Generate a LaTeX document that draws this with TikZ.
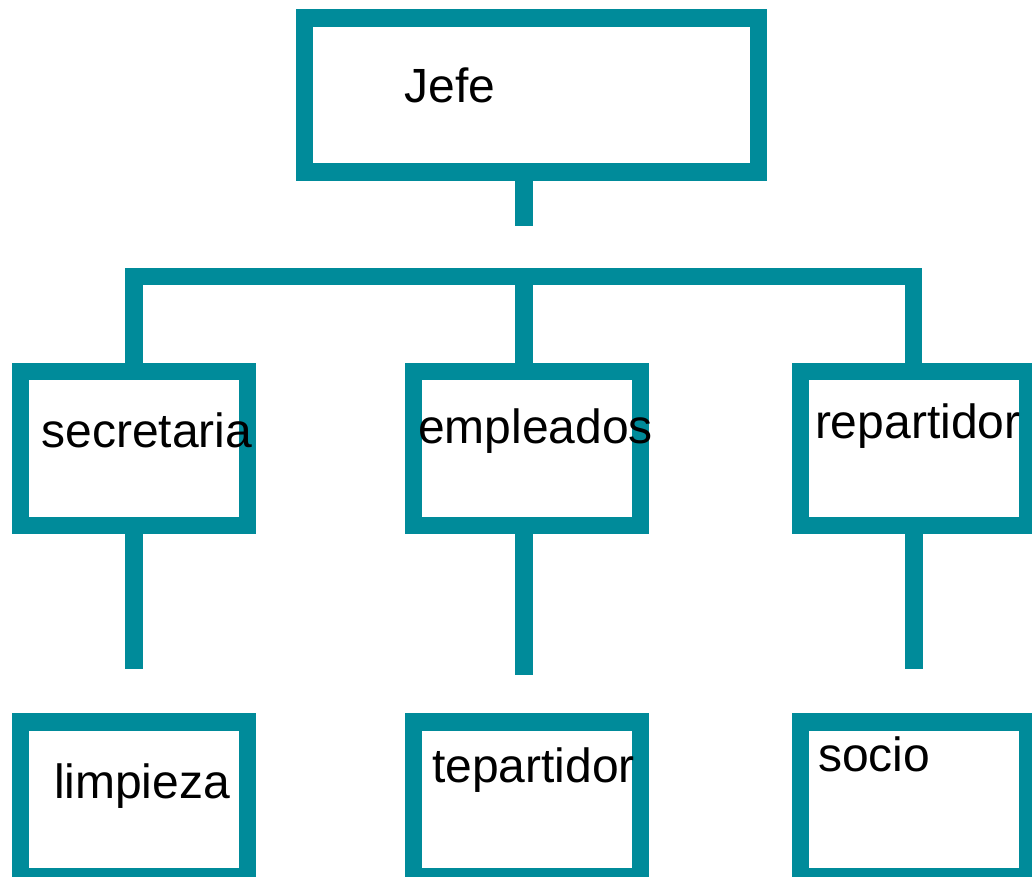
\documentclass[tikz,border=0pt]{standalone}
\usepackage{fontspec}
\setmainfont{Liberation Sans}
\definecolor{teal}{RGB}{0,139,154}
\begin{document}
\begin{tikzpicture}[x=0.75pt,y=-0.75pt,
  box/.style={draw=teal,line width=13.1pt,rectangle,inner sep=0pt,outer sep=0pt,
    minimum height={154.3*0.75pt}},
  link/.style={draw=teal,line width=13.1pt,line join=miter,line cap=butt},
  lbl/.style={anchor=base west,inner sep=0pt,outer sep=0pt,text=black,
    font=\fontsize{36}{40}\selectfont}]
\useasboundingbox (0,0) rectangle (1032,877);
% boxes
\node[box,minimum width={454.4*0.75pt},minimum height={154.4*0.75pt}] (jefe) at (531.5,95) {};
\node[box,minimum width={226.8*0.75pt}] (sec) at (133.9,448.4) {};
\node[box,minimum width={227.4*0.75pt}] (emp) at (527,448.4) {};
\node[box,minimum width={226.8*0.75pt}] (rep) at (913.9,448.4) {};
\node[box,minimum width={226.8*0.75pt}] (lim) at (133.9,799.2) {};
\node[box,minimum width={227.4*0.75pt}] (tep) at (527,799.2) {};
\node[box,minimum width={226.8*0.75pt}] (soc) at (913.9,799.2) {};
% connector points
\coordinate (jstub) at (524,225.7);
\coordinate (barL) at (134,276.7);
\coordinate (barC) at (524,276.7);
\coordinate (barR) at (913.5,276.7);
\coordinate (sL) at (134,669.3);
\coordinate (sC) at (524,675);
\coordinate (sR) at (914,669.3);
% connectors
\draw[link] (jefe.south -| jstub) -- (jstub);
\draw[link] (sec.north -| barL) -- (barL) -- (barR) -- (rep.north -| barR);
\draw[link] (emp.north -| barC) -- (barC);
\draw[link] (sec.south -| sL) -- (sL);
\draw[link] (emp.south -| sC) -- (sC);
\draw[link] (rep.south -| sR) -- (sR);
% labels
\node[lbl] (tjefe) at (404.5,102.7) {Jefe};
\node[lbl] (tsec) at (41.5,447.3) {secretaria};
\node[lbl] (temp) at (418,443.3) {empleados};
\node[lbl] (trep) at (815,438.3) {repartidor};
\node[lbl] (tlim) at (54,798.3) {limpieza};
\node[lbl] (ttep) at (432,782.7) {tepartidor};
\node[lbl] (tsoc) at (818,771) {socio};
\end{tikzpicture}
\end{document}
